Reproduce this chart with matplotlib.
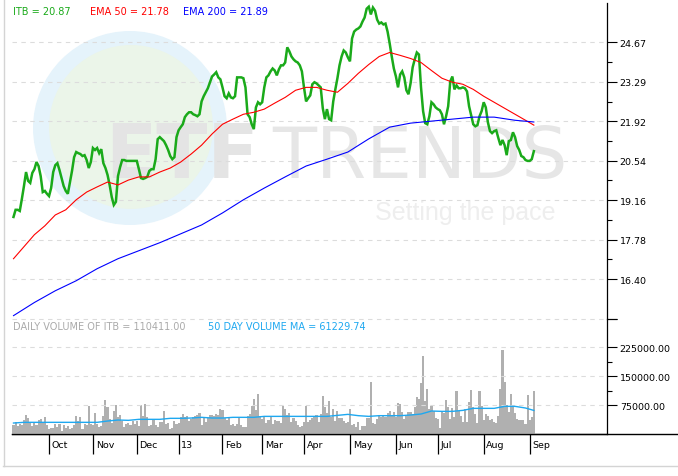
import numpy as np
import pandas as pd
import matplotlib
matplotlib.use("Agg")
import matplotlib.pyplot as plt
import matplotlib.transforms as mtransforms
from matplotlib.patches import Circle

W, H = 678, 477

# NYSE trading days from Sep 6 2012 to Sep 5 2013
holidays = ["2012-10-29", "2012-10-30", "2012-11-22", "2012-12-25", "2013-01-01",
            "2013-01-21", "2013-02-18", "2013-03-29", "2013-05-27", "2013-07-04",
            "2013-09-02"]
days = pd.bdate_range("2012-09-06", "2013-09-05")
days = days[~days.isin(pd.to_datetime(holidays))]

itb_close = [
    18.57, 18.82, 18.82, 18.78, 19.20, 19.65, 20.14, 19.83, 19.76, 20.11,
    20.24, 20.49, 20.35, 20.00, 19.44, 19.48, 19.38, 19.30, 19.58, 20.14,
    20.38, 20.45, 20.21, 19.93, 19.65, 19.48, 19.38, 19.79, 20.18, 20.66,
    20.84, 20.80, 20.77, 20.70, 20.73, 20.56, 20.28, 20.49, 20.98, 20.91,
    20.98, 20.80, 20.94, 20.45, 20.28, 20.04, 19.69, 19.27, 18.99, 19.10,
    20.00, 20.31, 20.56, 20.56, 20.53, 20.53, 20.53, 20.53, 20.53, 20.53,
    20.24, 19.93, 19.90, 19.93, 19.97, 20.18, 20.24, 20.24, 20.59, 21.29,
    21.36, 21.29, 21.22, 21.08, 20.91, 20.70, 20.59, 20.66, 21.36, 21.60,
    21.71, 21.81, 22.06, 22.16, 22.23, 22.23, 22.16, 22.13, 22.09, 22.16,
    22.61, 22.79, 22.93, 23.07, 23.28, 23.48, 23.55, 23.63, 23.45, 23.38,
    23.10, 22.79, 22.72, 22.89, 22.75, 22.72, 22.79, 23.45, 23.45, 23.45,
    23.42, 23.10, 22.16, 22.06, 21.81, 21.64, 22.40, 22.58, 22.51, 22.58,
    23.10, 23.45, 23.52, 23.66, 23.76, 23.69, 23.52, 23.73, 23.87, 23.87,
    23.97, 24.50, 24.36, 24.18, 24.08, 24.01, 23.97, 23.87, 23.66, 23.10,
    22.61, 22.72, 22.82, 23.21, 23.28, 23.24, 23.17, 23.10, 22.37, 21.99,
    22.34, 21.99, 21.95, 22.61, 23.03, 23.42, 23.87, 24.18, 24.39, 24.32,
    24.15, 24.01, 24.81, 25.05, 25.12, 25.16, 25.23, 25.40, 25.54, 25.85,
    25.92, 25.65, 25.89, 25.78, 25.47, 25.33, 25.37, 25.30, 25.33, 25.05,
    24.64, 24.18, 23.76, 23.48, 23.10, 23.55, 23.66, 23.45, 23.00, 22.86,
    23.24, 23.80, 24.08, 24.32, 24.25, 23.10, 22.27, 21.85, 21.81, 22.09,
    22.58, 22.51, 22.40, 22.34, 22.30, 22.16, 21.81, 22.09, 22.44, 23.31,
    23.48, 23.03, 23.17, 23.07, 23.07, 23.10, 23.07, 22.96, 22.44, 22.13,
    21.81, 21.74, 21.78, 22.09, 22.27, 22.58, 22.40, 21.88, 21.57, 21.50,
    21.57, 21.60, 21.33, 21.08, 21.26, 21.08, 20.73, 21.22, 21.26, 21.53,
    21.36, 21.05, 20.91, 20.70, 20.66, 20.56, 20.53, 20.53, 20.59, 20.87,
]

ema50_days = list(range(0, 250, 5)) + [249]
ema50 = [
    17.11, 17.53, 17.95, 18.26, 18.64, 18.82, 19.17, 19.44, 19.62, 19.79,
    19.69, 19.86, 19.97, 19.97, 20.14, 20.28, 20.49, 20.77, 21.08, 21.47,
    21.81, 21.99, 22.16, 22.23, 22.34, 22.55, 22.75, 23.00, 23.10, 23.10,
    23.00, 22.93, 23.24, 23.59, 23.90, 24.18, 24.32, 24.22, 24.11, 23.97,
    23.69, 23.42, 23.28, 23.21, 23.03, 22.79, 22.58, 22.37, 22.16, 21.95,
    21.78,
]

ema200_days = list(range(0, 250, 10)) + [249]
ema200 = [
    15.12, 15.58, 15.99, 16.34, 16.76, 17.11, 17.39, 17.67, 17.98, 18.29,
    18.71, 19.17, 19.58, 19.97, 20.35, 20.59, 20.84, 21.30, 21.71, 21.85,
    21.92, 21.99, 22.06, 22.06, 21.95, 21.89,
]

volume = [
    23400, 30300, 21600, 26000, 23400, 36300, 49300, 41500, 28500, 21600, 28500, 23400,
    36300, 38900, 30300, 44100, 23400, 13000, 15600, 15600, 26000, 17300, 26000, 7800,
    23400, 15600, 19900, 13000, 16400, 24200, 46700, 34600, 44100, 13000, 26000, 23400,
    72700, 26000, 23400, 54500, 26000, 17300, 21600, 46700, 88200, 69200, 38900, 28500,
    60600, 75300, 43300, 49300, 34600, 17300, 26000, 28500, 23400, 34600, 26000, 34600,
    21600, 75300, 45800, 77900, 43300, 19900, 23400, 36300, 23400, 17300, 30300, 30300,
    59700, 26000, 28500, 13000, 15600, 33700, 26000, 28500, 44100, 51900, 43300, 45800,
    34600, 38900, 43300, 47600, 49300, 54500, 23400, 41500, 30300, 40700, 49300, 49300,
    45800, 51900, 49300, 64900, 62300, 40700, 37200, 41500, 23400, 26000, 19900, 25100,
    43300, 23400, 17300, 17300, 47600, 51900, 73500, 90800, 63100, 103800, 47600, 38900,
    45800, 28500, 36300, 45800,
    26000, 36300, 34600, 32900, 28500, 73500, 64900, 49300, 54500, 32000, 41500, 34600,
    23400, 17300, 21600, 30300, 73500, 30300,
    37200, 40700, 43300, 49300, 32000, 51900, 99500, 69200, 54500, 85600, 43300, 64900,
    34600, 60600, 41500, 41500, 34600, 28500, 30300, 64900, 23400, 26000, 17300, 30300,
    11200, 19900, 19900, 41500, 41500, 135800, 28500, 26000, 38900, 49300, 43300, 45800,
    43300, 54500, 59700, 49300, 58000, 43300, 80400, 77900, 58000, 38900, 47600, 58000,
    56200, 51900, 69200, 95200, 90800, 132300, 203300, 86500, 116800, 64900, 73500, 60600,
    41500, 38900, 15600, 58000, 54500, 88200, 69200, 38900, 66600, 45000, 112500, 60600,
    45800, 32000, 64900, 32000, 82200, 114200, 69200, 51900, 27700, 111600, 73500, 36300,
    51900, 45800, 36300, 38900, 32000, 28500, 47600, 116800, 218000, 134100, 76100, 56200,
    103800, 69200, 54500, 38900, 37200, 37200, 37200, 26000, 101200, 36300, 43300, 110411,
]

vol_ma_days = list(range(0, 250, 5)) + [249]
vol_ma = [
    28500, 30300, 30300, 30300, 30300, 30300, 30300, 30300, 30300, 33700,
    36300, 35500, 38100, 38100, 38100, 40700, 40700, 41500, 43300, 41500,
    41500, 43300, 43300, 43300, 45800, 45800, 45800, 45800, 45800, 45800,
    45800, 48400, 51000, 47600, 45800, 47600, 47600, 47600, 49300, 51900,
    59700, 58800, 58800, 61400, 66600, 66600, 66600, 71800, 71800, 67500,
    61229.74,
]

price_ticks = [16.40, 17.78, 19.16, 20.54, 21.92, 23.29, 24.67]
price_bottom, price_top = 15.02, 26.05
vol_ticks = [75000, 150000, 225000]
vol_top = 300000

GREEN = "#1aaa1a"
RED = "#ff0000"
BLUE = "#0000ff"
VOLGRAY = "#b0b0b0"
MABLUE = "#1ea8f0"
GRID = "#dcdcdc"


def rect(left, top, right, bottom):
    return [left / W, 1 - bottom / H, (right - left) / W, (bottom - top) / H]


x = np.arange(len(days))
xlim = (-0.72, 284)

fig = plt.figure(figsize=(W / 100, H / 100), dpi=100)
fig.patch.set_facecolor("white")

# background: watermark, frame and pixel placed labels
bg = fig.add_axes([0, 0, 1, 1], zorder=0)
bg.add_patch(Circle((130, 129), 97, color="#e5f3fb", lw=0))
bg.add_patch(Circle((131, 128), 82, color="#ebf5e9", lw=0))
bg.text(105, 178, "ETF", fontsize=54, fontweight="bold", color="#e4e4e4", va="baseline")
bg.text(272, 178, "TRENDS", fontsize=52, color="#e6e6e6", va="baseline")
bg.text(375, 220, "Setting the pace", fontsize=18, family="Liberation Sans",
        color="#eeeeee", va="baseline")
bg.plot([3.5, 3.5], [0, 466.5], color="#d4d4d4", lw=1)
bg.plot([3, W], [466.5, 466.5], color="#d4d4d4", lw=1)
bg.plot([12, W], [435, 435], color="black", lw=1)

small = dict(fontsize=7, va="center", ha="left")
bg.text(13, 12, f"ITB = {itb_close[-1]:.2f}", color=GREEN, **small)
bg.text(90, 12, f"EMA 50 = {ema50[-1]:.2f}", color=RED, **small)
bg.text(183, 12, f"EMA 200 = {ema200[-1]:.2f}", color=BLUE, **small)
bg.text(13, 327, f"DAILY VOLUME OF ITB = {volume[-1]:.2f}", color="#aaaaaa", **small)
bg.text(208, 327, f"50 DAY VOLUME MA = {vol_ma[-1]:.2f}", color=MABLUE, **small)
bg.set_xlim(0, W)
bg.set_ylim(H, 0)
bg.axis("off")

# price panel
ax = fig.add_axes(rect(12, 4, 607, 319.5), zorder=1)
ax.patch.set_alpha(0)
ax.plot(x, itb_close, color=GREEN, lw=1.8, solid_joinstyle="miter")
ax.plot(ema50_days, ema50, color=RED, lw=0.8)
ax.plot(ema200_days, ema200, color=BLUE, lw=0.8)
ax.set_xlim(*xlim)
ax.set_ylim(price_bottom, price_top)
for s in ["left", "top", "bottom"]:
    ax.spines[s].set_visible(False)
ax.spines["right"].set_linewidth(0.9)
ax.yaxis.tick_right()
ax.set_yticks([price_bottom] + price_ticks)
ax.set_yticklabels([""] + [f"{t:.2f}" for t in price_ticks])
ax.set_yticks([(a + b) / 2 for a, b in zip(price_ticks[:-1], price_ticks[1:])], minor=True)
ax.tick_params(axis="y", which="major", length=7.2, width=0.8, labelsize=6.8, pad=2)
ax.tick_params(axis="y", which="minor", length=3.6, width=0.8)
ax.set_xticks([])
ax.yaxis.grid(True, which="major", color=GRID, ls=(0, (4, 4)), lw=0.8)

# volume panel
vx = fig.add_axes(rect(12, 319.5, 607, 435), zorder=1)
vx.patch.set_alpha(0)
vx.bar(x, volume, width=1.0, color=VOLGRAY, lw=0)
vx.plot(vol_ma_days, vol_ma, color=MABLUE, lw=1)
vx.set_xlim(*xlim)
vx.set_ylim(0, vol_top)
for s in ["left", "top"]:
    vx.spines[s].set_visible(False)
vx.spines["right"].set_linewidth(0.9)
vx.spines["bottom"].set_linewidth(0.9)
vx.yaxis.tick_right()
vx.set_yticks(vol_ticks + [vol_top])
vx.set_yticklabels([f"{t:.2f}" for t in vol_ticks] + [""])
vx.set_yticks([112500, 187500], minor=True)
vx.tick_params(axis="y", which="major", length=7.2, width=0.8, labelsize=6.8, pad=2)
vx.tick_params(axis="y", which="minor", length=3.6, width=0.8)
vx.yaxis.grid(True, which="major", color=GRID, ls=(0, (4, 4)), lw=0.8)

# month ticks at first trading day of each month
month_idx = [i for i in range(1, len(days)) if days[i].month != days[i - 1].month]
month_lbl = [days[i].strftime("%y") if days[i].month == 1 else days[i].strftime("%b")
             for i in month_idx]
vx.set_xticks(month_idx)
vx.set_xticklabels([])
vx.tick_params(axis="x", length=14.4, width=0.9, direction="out")
trans = mtransforms.blended_transform_factory(vx.transData, vx.transAxes)
for i, lbl in zip(month_idx, month_lbl):
    vx.text(i + 1.3, -10 / 115, lbl, transform=trans, fontsize=6.8, va="center", ha="left")

fig.savefig("out.png", dpi=100, facecolor="white")
